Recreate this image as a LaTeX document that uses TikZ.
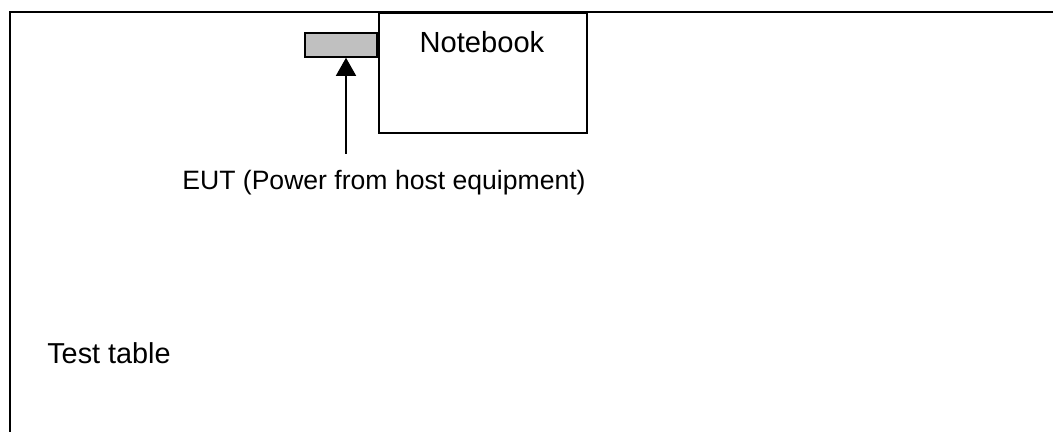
\documentclass[tikz,border=0pt]{standalone}
\usepackage{fontspec}
\setmainfont{Liberation Sans}
\usepackage{tikz}
\usetikzlibrary{arrows.meta}
\usetikzlibrary{positioning}

\definecolor{eutgray}{RGB}{192,192,192}
\tikzset{
 frameline/.style={line width=1.1pt,black},
 nbbox/.style={draw,line width=1.1pt,black,fill=white,inner sep=0pt},
 eutbox/.style={draw,line width=1.1pt,black,fill=eutgray,inner sep=0pt,
   minimum width=1.8cm,minimum height=0.6cm},
 lbl/.style={inner sep=0pt,font=\fontsize{20.5}{25}\selectfont},
 uparrow/.style={line width=1.1pt,-{Triangle[length=12.8pt,width=14.2pt]}}
}

\begin{document}
\begin{tikzpicture}[x=0.025cm,y=-0.025cm]
\useasboundingbox (0,0) rectangle (1053,432);
% test table edge
 \draw[frameline] (1053,12)--(10,12)--(10,440);
% notebook with EUT
 \node[eutbox,anchor=east] (eut) at (378,45) {};
 \node[nbbox,anchor=north west,minimum width=5.2cm,minimum height=3cm] (notebook) at (378,12) {};
 \node[lbl,font=\fontsize{20.7}{25}\selectfont] (nbtext) at (482,42) {Notebook};
% arrow to EUT
 \coordinate (arrowfoot) at (346,154);
 \draw[uparrow] (arrowfoot)--(arrowfoot |- eut.south);
 \node[lbl,font=\fontsize{18.9}{23}\selectfont] (euttext) at (384,183) {EUT (Power from host equipment)};
% table label
 \node[lbl,anchor=west] (tabletext) at (47,353) {Test table};
\end{tikzpicture}
\end{document}
